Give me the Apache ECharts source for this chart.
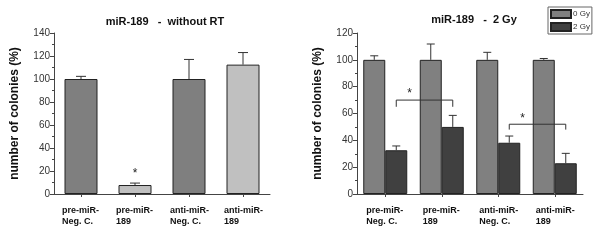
<!DOCTYPE html>
<html>
<head>
<meta charset="utf-8">
<script src="https://cdn.jsdelivr.net/npm/echarts@6/dist/echarts.min.js"></script>
<style>
  html, body { margin: 0; padding: 0; background: #fff; }
  #main { width: 600px; height: 241px; }
</style>
</head>
<body>
<div id="main"></div>
<script>
// categories (same on both panels)
var categories = ['pre-miR-\nNeg. C.', 'pre-miR-\n189', 'anti-miR-\nNeg. C.', 'anti-miR-\n189'];

// left panel: without RT
var leftValues = [100, 7.8, 100, 112.5];
var leftErrors = [2.3, 1.7, 17, 10.5];
var leftColors = ['#7f7f7f', '#c0c0c0', '#7f7f7f', '#c0c0c0'];

// right panel: 0 Gy / 2 Gy
var seriesNames = ['0 Gy', '2 Gy'];
var gy0Values = [100, 100, 100, 100];
var gy0Errors = [3, 11.8, 5.6, 1];
var gy2Values = [32.6, 50, 38.2, 22.9];
var gy2Errors = [3.2, 8.6, 5, 7.4];

// significance brackets: [from category, to category, height, foot]
var brackets = [[0, 1, 70, 65], [2, 3, 52, 48]];

var chart = echarts.init(document.getElementById('main'));

var font = 'Liberation Sans, Arial, sans-serif';

function yAxisCfg(max, gridIndex) {
    return {
        type: 'value', gridIndex: gridIndex, min: 0, max: max, interval: 20,
        name: 'number of colonies (%)', nameLocation: 'middle', nameGap: 33,
        nameTextStyle: { fontFamily: font, fontWeight: 'bold', fontSize: 12, color: '#111' },
        axisLine: { show: true, lineStyle: { color: '#444', width: 1 } },
        axisTick: { show: true, length: 4, lineStyle: { color: '#444' } },
        minorTick: { show: true, splitNumber: 2, length: 2, lineStyle: { color: '#444' } },
        splitLine: { show: false },
        axisLabel: { fontFamily: font, fontSize: 10, color: '#333', margin: 4 }
    };
}

function xAxisCfg(gridIndex) {
    return {
        type: 'category', gridIndex: gridIndex, data: categories,
        axisLine: { lineStyle: { color: '#444', width: 1 } },
        axisTick: { show: true, alignWithLabel: true, length: 3, lineStyle: { color: '#444' } },
        axisLabel: {
            margin: 11, interval: 0,
            formatter: function (v) { return '{a|' + v.replace('\n', '}\n{a|') + '}'; },
            rich: { a: { width: 38, align: 'left', fontFamily: font, fontWeight: 'bold', fontSize: 9, color: '#111', lineHeight: 11 } }
        }
    };
}

// error bars, upper whisker only
function errorSeries(values, errors, xi, yi, offset, cap) {
    return {
        type: 'custom', xAxisIndex: xi, yAxisIndex: yi, silent: true, z: 5,
        data: values.map(function (v, i) { return [i, v, v + errors[i]]; }),
        renderItem: function (params, api) {
            var lo = api.coord([api.value(0), api.value(1)]);
            var hi = api.coord([api.value(0), api.value(2)]);
            var x = lo[0] + offset;
            var st = { stroke: '#333', lineWidth: 1 };
            return {
                type: 'group', children: [
                    { type: 'line', shape: { x1: x, y1: lo[1], x2: x, y2: hi[1] }, style: st },
                    { type: 'line', shape: { x1: x - cap, y1: hi[1], x2: x + cap, y2: hi[1] }, style: st }
                ]
            };
        }
    };
}

function starText(x, y) {
    return { type: 'text', x: x, y: y, style: { text: '*', fontSize: 12, fontFamily: font, fill: '#222', align: 'center', verticalAlign: 'middle' } };
}

var option = {
    animation: false,
    title: [
        { text: 'miR-189   -  without RT', left: 160, top: 11, textAlign: 'center',
          textStyle: { fontFamily: font, fontSize: 11, fontWeight: 'bold', color: '#111' } },
        { text: 'miR-189   -  2 Gy', left: 469, top: 9, textAlign: 'center',
          textStyle: { fontFamily: font, fontSize: 11, fontWeight: 'bold', color: '#111' } }
    ],
    legend: {
        orient: 'vertical', left: 548, top: 7, data: seriesNames, icon: 'rect',
        itemWidth: 20, itemHeight: 8, itemGap: 3, padding: [2, 2, 2, 2],
        borderColor: '#666', borderWidth: 1,
        textStyle: { fontFamily: font, fontSize: 8, color: '#333', padding: [0, 0, 0, -3] }
    },
    grid: [
        { left: 54, right: 330, top: 33, bottom: 47 },
        { left: 357, right: 17, top: 33, bottom: 47 }
    ],
    xAxis: [xAxisCfg(0), xAxisCfg(1)],
    yAxis: [yAxisCfg(140, 0), yAxisCfg(120, 1)],
    series: [
        {
            type: 'bar', xAxisIndex: 0, yAxisIndex: 0, barWidth: 33,
            data: leftValues.map(function (v, i) {
                return { value: v, itemStyle: { color: leftColors[i] } };
            }),
            itemStyle: { borderColor: '#222', borderWidth: 1 }
        },
        errorSeries(leftValues, leftErrors, 0, 0, 0, 5),
        {
            name: seriesNames[0], type: 'bar', xAxisIndex: 1, yAxisIndex: 1, barWidth: 22, barGap: 0,
            data: gy0Values, itemStyle: { color: '#808080', borderColor: '#222', borderWidth: 1 }
        },
        {
            name: seriesNames[1], type: 'bar', xAxisIndex: 1, yAxisIndex: 1, barWidth: 22, barGap: 0,
            data: gy2Values, itemStyle: { color: '#404040', borderColor: '#222', borderWidth: 1 }
        },
        errorSeries(gy0Values, gy0Errors, 1, 1, -11, 4),
        errorSeries(gy2Values, gy2Errors, 1, 1, 11, 4),
        // left star
        {
            type: 'custom', xAxisIndex: 0, yAxisIndex: 0, silent: true,
            data: [[1, 18]],
            renderItem: function (params, api) {
                var p = api.coord([api.value(0), api.value(1)]);
                return starText(p[0], p[1]);
            }
        },
        // right brackets
        {
            type: 'custom', xAxisIndex: 1, yAxisIndex: 1, silent: true, z: 6,
            data: brackets,
            renderItem: function (params, api) {
                var a = api.coord([api.value(0), api.value(2)]);
                var b = api.coord([api.value(1), api.value(2)]);
                var foot = api.coord([api.value(0), api.value(3)]);
                var x1 = a[0] + 11, x2 = b[0] + 11, y = a[1], yf = foot[1];
                var st = { stroke: '#333', lineWidth: 1, fill: null };
                return {
                    type: 'group', children: [
                        { type: 'polyline', shape: { points: [[x1, yf], [x1, y], [x2, y], [x2, yf]] }, style: st },
                        starText((x1 + x2) / 2 - 15, y - 6)
                    ]
                };
            }
        }
    ]
};

chart.setOption(option);
</script>
</body>
</html>
